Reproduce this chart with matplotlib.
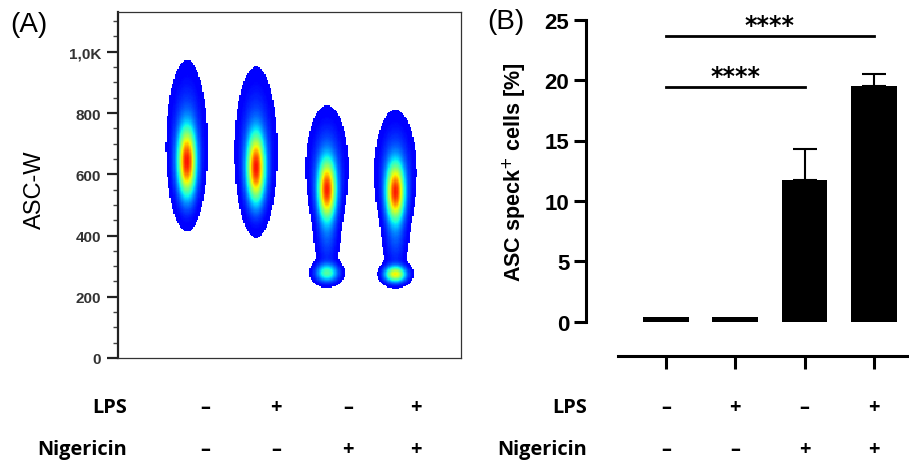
import matplotlib.pyplot as plt
import numpy as np
from matplotlib.colors import ListedColormap
from matplotlib.transforms import blended_transform_factory

# ---- panel A: density blobs (x position, then gaussian components) ----
blob_x = [1.0, 2.01, 3.05, 4.05]
# core component
core_y = [640, 620, 547, 540]
core_sy = [70, 70, 62, 60]
core_sx = [0.085, 0.085, 0.085, 0.085]
# halo component
halo_y = [703, 682, 625, 610]
halo_sy = [135, 135, 100, 100]
halo_sx = [0.15, 0.155, 0.155, 0.155]
halo_w = [0.15, 0.15, 0.15, 0.15]
# stem + bottom bulb (nigericin only)
stem_y = [380, 380, 385, 380]
stem_sy = [60, 60, 60, 60]
stem_sx = [0.1, 0.1, 0.1, 0.1]
stem_w = [0.0, 0.0, 0.1, 0.1]
bulb_y = [277, 277, 277, 273]
bulb_sy = [19, 19, 19, 17]
bulb_sx = [0.105, 0.105, 0.105, 0.1]
bulb_w = [0.0, 0.0, 0.45, 0.75]

yticks_A = [0, 200, 400, 600, 800, 1000]
yticklabels_A = ['0', '200', '400', '600', '800', '1,0K']

# ---- panel B: bar chart ----
groups = [0, 1, 2, 3]
speck = [0.4, 0.4, 11.7, 19.5]
speck_err = [0.0, 0.0, 2.6, 1.0]
sig_pairs = [(0, 2, 19.4, '****'), (0, 3, 23.65, '****')]

lps = ['–', '+', '–', '+']
nig = ['–', '–', '+', '+']

fig = plt.figure(figsize=(9.09, 4.64), dpi=100)

# ---------------- panel A ----------------
axA = fig.add_axes([118/909, 1-359/464, 343/909, 346/464])
xs = np.linspace(0, 5, 260)
ys = np.linspace(0, 1130, 300)
X, Y = np.meshgrid(xs, ys)
D = np.zeros_like(X)
def g(x0, y0, sx, sy):
    return np.exp(-((X-x0)**2/(2*sx**2) + (Y-y0)**2/(2*sy**2)))
for i, x0 in enumerate(blob_x):
    D += g(x0, core_y[i], core_sx[i], core_sy[i])
    D += halo_w[i]*g(x0, halo_y[i], halo_sx[i], halo_sy[i])
    D += stem_w[i]*g(x0, stem_y[i], stem_sx[i], stem_sy[i])
    D += bulb_w[i]*g(x0, bulb_y[i], bulb_sx[i], bulb_sy[i])
thr = 0.02
V = np.clip((D-thr)/(D.max()-thr), 0, 1)**0.9
V = np.ma.masked_where(D < thr, V)
cmap = ListedColormap(plt.cm.jet(np.linspace(0.11, 0.89, 256)))
axA.imshow(V, extent=[0, 5, 0, 1130], origin='lower', aspect='auto',
           cmap=cmap, vmin=0, vmax=1, interpolation='nearest')
axA.set_xlim(0, 5)
axA.set_ylim(0, 1130)
axA.set_xticks([])
axA.set_yticks(yticks_A)
axA.set_yticklabels(yticklabels_A, fontfamily='Liberation Sans',
                    fontweight='bold', fontsize=11, color='#333333')
axA.yaxis.set_minor_locator(plt.MultipleLocator(50))
axA.tick_params(axis='y', which='major', length=8, width=1.6, pad=4, color='#222222')
axA.tick_params(axis='y', which='minor', length=3.6, width=1.0, color='#444444')
for s in axA.spines.values():
    s.set_linewidth(0.9)
    s.set_color('#333333')
axA.spines['left'].set_linewidth(1.6)
axA.spines['left'].set_color('#222222')
axA.set_ylabel('ASC-W', fontfamily='Liberation Sans', fontsize=17)
axA.yaxis.set_label_coords(-0.21, 0.49)

# ---------------- panel B ----------------
axB = fig.add_axes([586/909, 1-322.7/464, 323/909, 302/464])
axB.bar(groups, speck, width=0.66, color='black')
top = np.array(speck) + np.array(speck_err)/2
axB.errorbar(groups[2:], top[2:], yerr=np.array(speck_err[2:])/2, fmt='none',
             ecolor='black', elinewidth=1.5, capsize=8.6, capthick=1.5)
for a, b, h, txt in sig_pairs:
    axB.plot([a, b], [h, h], color='black', lw=2.0, clip_on=False)
    axB.text((a+b)/2, h+0.95, txt, ha='center', va='center',
             fontfamily='DejaVu Sans', fontweight='bold', fontsize=17)
axB.set_xlim(-1.154, 3.507)
axB.set_ylim(0, 25)
axB.set_yticks([0, 5, 10, 15, 20, 25])
axB.set_yticklabels(['0', '5', '10', '15', '20', '25'],
                    fontfamily='Liberation Sans', fontweight='bold', fontsize=16)
axB.set_xticks(groups)
axB.set_xticklabels([])
axB.spines['top'].set_visible(False)
axB.spines['right'].set_visible(False)
axB.spines['left'].set_linewidth(2.2)
axB.spines['bottom'].set_linewidth(2.2)
axB.spines['bottom'].set_position(('outward', 24.5))
axB.spines['bottom'].set_bounds(-0.69, 3.507)
axB.tick_params(axis='y', length=9, width=2.2, pad=3)
axB.tick_params(axis='x', length=9.4, width=2.2)
axB.set_ylabel('ASC speck$^{+}$ cells [%]', fontfamily='Liberation Sans',
               fontweight='bold', fontsize=15.5)
axB.yaxis.set_label_coords(-0.178, 0.5)

# ---------------- labels ----------------
fig.text(10/909, 1-25/464, '(A)', fontfamily='Liberation Sans', fontsize=20,
         va='center', ha='left')
fig.text(487/909, 1-22/464, '(B)', fontfamily='Liberation Sans', fontsize=20,
         va='center', ha='left')

row_y = [1-413.3/464, 1-455/464]
lab_kw = dict(fontfamily='Open Sans', fontweight='bold', fontsize=14.4, va='baseline')
signA_x = [205, 276, 348, 416]
for ry, name, signs in zip(row_y, ['LPS', 'Nigericin'], [lps, nig]):
    fig.text(127/909, ry, name, ha='right', **lab_kw)
    fig.text(587/909, ry, name, ha='right', **lab_kw)
    for sx, sgn in zip(signA_x, signs):
        fig.text(sx/909, ry, sgn, ha='center', **lab_kw)
    tr = blended_transform_factory(axB.transData, fig.transFigure)
    for gx, sgn in zip(groups, signs):
        axB.text(gx, ry, sgn, ha='center', transform=tr, **lab_kw)

fig.savefig('out.png', dpi=100)
